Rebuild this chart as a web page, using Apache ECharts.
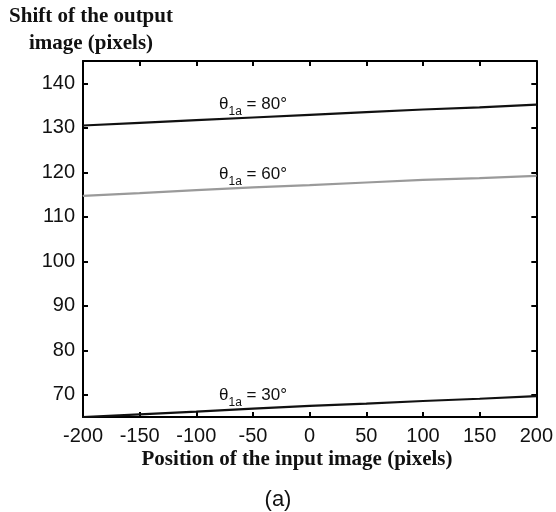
<!DOCTYPE html>
<html>
<head>
<meta charset="utf-8">
<script src="https://cdn.jsdelivr.net/npm/echarts@6/dist/echarts.min.js"></script>
<style>
  html, body { margin: 0; padding: 0; background: #fff; }
  #chart { width: 556px; height: 512px; }
</style>
</head>
<body>
<div id="chart"></div>
<script>
// Input image position (pixels)
const positions = [-200, -150, -100, -50, 0, 50, 100, 150, 200];
// Output image shift (pixels) for three incidence angles
const shift80 = [130.5, 131.1, 131.7, 132.3, 132.9, 133.5, 134.1, 134.6, 135.2];
const shift60 = [114.7, 115.3, 116.0, 116.6, 117.1, 117.7, 118.3, 118.7, 119.2];
const shift30 = [65.0, 65.6, 66.2, 66.9, 67.5, 68.0, 68.6, 69.1, 69.7];
const angles = ['80', '60', '30'];
// Curve labels sit above the point at this x position
const labelAt = -50;

const xTicks = [-200, -150, -100, -50, 0, 50, 100, 150, 200];
const yTicks = [70, 80, 90, 100, 110, 120, 130, 140];

const chart = echarts.init(document.getElementById('chart'), null, { renderer: 'canvas' });

const FONT = 'Liberation Sans, Arial, sans-serif';
const SERIF = 'Liberation Serif, Times New Roman, serif';

function buildData(values, angle) {
  return positions.map((x, i) => {
    if (x !== labelAt) return [x, values[i]];
    return {
      value: [x, values[i]],
      label: {
        show: true,
        position: 'top',
        distance: 4,
        formatter: '{t|θ}{s|1a}{n| = ' + angle + '°}',
        rich: {
          t: { fontSize: 17, fontFamily: FONT, color: '#111', verticalAlign: 'middle' },
          s: { fontSize: 12, fontFamily: FONT, color: '#111', verticalAlign: 'bottom', padding: [0, 0, -5, 0] },
          n: { fontSize: 17, fontFamily: FONT, color: '#111', verticalAlign: 'middle' }
        }
      }
    };
  });
}

const lineSeries = (values, angle, color) => ({
  type: 'line',
  data: buildData(values, angle),
  showSymbol: true,
  showAllSymbol: true,
  symbol: 'circle',
  symbolSize: 1,
  itemStyle: { color: color },
  smooth: false,
  lineStyle: { color: color, width: 2.2 },
  silent: true,
  z: 3
});

const axisLine = { show: true, onZero: false, lineStyle: { color: '#000', width: 2 } };
const tickIn = { show: true, inside: true, length: 5, lineStyle: { color: '#000', width: 2 } };

chart.setOption({
  animation: false,
  backgroundColor: '#fff',
  grid: { left: 83, right: 19, top: 61, bottom: 95, containLabel: false },
  xAxis: [
    {
      type: 'value', min: -200, max: 200, interval: 50, position: 'bottom',
      axisLine: axisLine, splitLine: { show: false },
      axisLabel: {
        color: '#111', fontSize: 20, fontFamily: FONT, margin: 9,
        customValues: xTicks
      },
      axisTick: Object.assign({ customValues: xTicks }, tickIn)
    },
    {
      type: 'value', min: -200, max: 200, interval: 50, position: 'top',
      axisLine: axisLine, axisTick: tickIn, splitLine: { show: false },
      axisLabel: { show: false }
    }
  ],
  yAxis: [
    {
      type: 'value', min: 65, max: 145, position: 'left',
      axisLine: axisLine, splitLine: { show: false },
      axisTick: Object.assign({ customValues: yTicks }, tickIn),
      axisLabel: {
        color: '#111', fontSize: 20, fontFamily: FONT, margin: 8,
        customValues: yTicks
      }
    },
    {
      type: 'value', min: 65, max: 145, position: 'right',
      axisLine: axisLine, splitLine: { show: false },
      axisTick: Object.assign({ customValues: yTicks }, tickIn),
      axisLabel: { show: false }
    }
  ],
  series: [
    lineSeries(shift80, angles[0], '#111'),
    lineSeries(shift60, angles[1], '#9a9a9a'),
    lineSeries(shift30, angles[2], '#111')
  ],
  graphic: [
    {
      type: 'text', x: 91, y: 3,
      style: {
        text: 'Shift of the output\nimage (pixels)', align: 'center', verticalAlign: 'top',
        fill: '#111', font: 'bold 21px ' + SERIF, lineHeight: 27
      }
    },
    {
      type: 'text', x: 297, y: 460,
      style: {
        text: 'Position of the input image (pixels)', align: 'center', verticalAlign: 'middle',
        fill: '#111', font: 'bold 21px ' + SERIF
      }
    },
    {
      type: 'text', x: 278, y: 500,
      style: {
        text: '(a)', align: 'center', verticalAlign: 'middle',
        fill: '#111', font: '22px ' + FONT
      }
    }
  ]
});
</script>
</body>
</html>
